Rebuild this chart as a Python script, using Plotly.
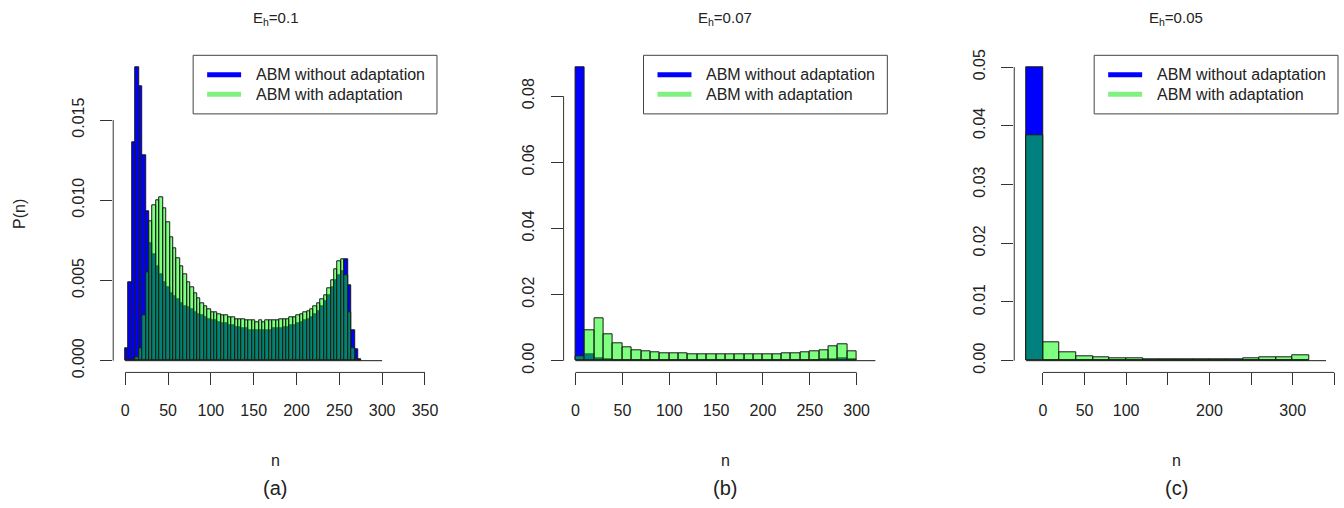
import plotly.graph_objects as go

W, H = 1344, 508

# ---------------- data ----------------
panel_titles = ["E<sub>h</sub>=0.1", "E<sub>h</sub>=0.07", "E<sub>h</sub>=0.05"]
panel_tags = ["(a)", "(b)", "(c)"]
series_names = ["ABM without adaptation", "ABM with adaptation"]

# panel (a): bins of width 4 starting at 0, breaks end at 300
a_bin_start, a_bin_width, a_break_end = 0, 4, 300
a_without = [0.0008, 0.0049, 0.0136, 0.0183, 0.0171, 0.0128, 0.0093, 0.0073, 0.0066, 0.0059,
             0.0054, 0.0049, 0.0046, 0.0042, 0.0040, 0.0038, 0.0036, 0.0034, 0.0033, 0.0032,
             0.0030, 0.0029, 0.0028, 0.0027, 0.0026, 0.0025, 0.0025, 0.0024, 0.0023, 0.0023,
             0.0022, 0.0022, 0.0021, 0.0021, 0.0020, 0.0020, 0.0019, 0.0019, 0.0019, 0.0019,
             0.0019, 0.0019, 0.0019, 0.0020, 0.0020, 0.0020, 0.0021, 0.0021, 0.0022, 0.0022,
             0.0023, 0.0024, 0.0025, 0.0026, 0.0027, 0.0029, 0.0031, 0.0034, 0.0037, 0.0041,
             0.0046, 0.0050, 0.0053, 0.0056, 0.0063, 0.0047, 0.0019, 0.0007, 0.0001]
a_with = [0.0, 0.0, 0.0, 0.0002, 0.0008, 0.0028, 0.0055, 0.0087, 0.0097, 0.0100,
          0.0102, 0.0095, 0.0086, 0.0077, 0.0070, 0.0064, 0.0059, 0.0054, 0.0049, 0.0046,
          0.0042, 0.0039, 0.0036, 0.0034, 0.0032, 0.0030, 0.0030, 0.0029, 0.0028, 0.0028,
          0.0027, 0.0027, 0.0026, 0.0026, 0.0026, 0.0025, 0.0025, 0.0025, 0.0024, 0.0025,
          0.0024, 0.0025, 0.0025, 0.0025, 0.0025, 0.0026, 0.0026, 0.0026, 0.0027, 0.0027,
          0.0028, 0.0029, 0.0030, 0.0031, 0.0032, 0.0034, 0.0036, 0.0038, 0.0041, 0.0045,
          0.0050, 0.0057, 0.0062, 0.0063, 0.0053, 0.0030, 0.0008, 0.0001, 0.0]
a_xlim = [0, 350]
a_xticks = [0, 50, 100, 150, 200, 250, 300, 350]
a_xtick_text = ["0", "50", "100", "150", "200", "250", "300", "350"]
a_xticks_unlabelled = []
a_yticks = [0, 0.005, 0.010, 0.015]
a_ytick_text = ["0.000", "0.005", "0.010", "0.015"]

# panel (b): bins of width 10 starting at 0, breaks end at 320
b_bin_start, b_bin_width, b_break_end = 0, 10, 320
b_without = [0.0888, 0.0020, 0.0008, 0.0003, 0.0002, 0.0001, 0.0001, 0.0001, 0.0001, 0.0001,
             0.0001, 0.0001, 0.0001, 0.0001, 0.0001, 0.0001, 0.0001, 0.0001, 0.0001, 0.0001,
             0.0001, 0.0001, 0.0001, 0.0001, 0.0001, 0.0002, 0.0003, 0.0005, 0.0006, 0.0003]
b_with = [0.0012, 0.0093, 0.0128, 0.0081, 0.0053, 0.0039, 0.0032, 0.0029, 0.0026, 0.0023,
          0.0022, 0.0021, 0.0020, 0.0019, 0.0019, 0.0018, 0.0018, 0.0019, 0.0019, 0.0019,
          0.0020, 0.0020, 0.0021, 0.0022, 0.0024, 0.0028, 0.0032, 0.0043, 0.0051, 0.0027]
b_xlim = [0, 320]
b_xticks = [0, 50, 100, 150, 200, 250, 300]
b_xtick_text = ["0", "50", "100", "150", "200", "250", "300"]
b_xticks_unlabelled = []
b_yticks = [0, 0.02, 0.04, 0.06, 0.08]
b_ytick_text = ["0.00", "0.02", "0.04", "0.06", "0.08"]

# panel (c): bins of width 20 starting at -20, breaks end at 340
c_bin_start, c_bin_width, c_break_end = -20, 20, 340
c_without = [0.0500, 0, 0, 0, 0, 0, 0, 0, 0, 0, 0, 0, 0, 0, 0, 0, 0]
c_with = [0.0384, 0.0031, 0.0015, 0.0008, 0.0006, 0.0004, 0.0004, 0.0003, 0.0003, 0.0003,
          0.0003, 0.0003, 0.0003, 0.0004, 0.0005, 0.0006, 0.0009]
c_xlim = [-20, 340]
c_xticks = [0, 50, 100, 200, 300]
c_xtick_text = ["0", "50", "100", "200", "300"]
c_xticks_unlabelled = [150, 250, 350]
c_yticks = [0, 0.01, 0.02, 0.03, 0.04, 0.05]
c_ytick_text = ["0.00", "0.01", "0.02", "0.03", "0.04", "0.05"]

panels = [
    dict(start=a_bin_start, bw=a_bin_width, end=a_break_end, s1=a_without, s2=a_with,
         xlim=a_xlim, xt=a_xticks, xtt=a_xtick_text, xu=a_xticks_unlabelled,
         yt=a_yticks, ytt=a_ytick_text),
    dict(start=b_bin_start, bw=b_bin_width, end=b_break_end, s1=b_without, s2=b_with,
         xlim=b_xlim, xt=b_xticks, xtt=b_xtick_text, xu=b_xticks_unlabelled,
         yt=b_yticks, ytt=b_ytick_text),
    dict(start=c_bin_start, bw=c_bin_width, end=c_break_end, s1=c_without, s2=c_with,
         xlim=c_xlim, xt=c_xticks, xtt=c_xtick_text, xu=c_xticks_unlabelled,
         yt=c_yticks, ytt=c_ytick_text),
]

# ---------------- style ----------------
FONT = "Liberation Sans, Arial, Helvetica, sans-serif"
BLUE = "#0000FF"
GREEN = "rgba(0,255,0,0.5)"
GREEN_LEG = "#80F080"
EDGE = "#1a1a1a"
AXC = "#333333"
TXT = "#222222"

plot_left = [113.3, 564.0, 1015.0]
plot_w = 324.0
plot_top, plot_bottom = 50.5, 375.3
ydom = [1 - plot_bottom / H, 1 - plot_top / H]

# legend box geometry (px, relative to plot's top-right corner)
LEG_W, LEG_H = 244.0, 60.0
LEG_SAMPLE = (14.0, 48.0)   # sample line start/end from box left
LEG_TEXT_X = 61.0           # text start from box left
LEG_ROWS = (20.0, 40.0)     # row centres from box top

fig = go.Figure()
shapes, annotations = [], []
layout = {}


def px(xp):
    return xp / W


def py(yp):
    return 1 - yp / H


for i, p in enumerate(panels):
    s = "" if i == 0 else str(i + 1)
    xa, ya = "x" + s, "y" + s
    n = len(p["s1"])
    centers = [p["start"] + p["bw"] * (k + 0.5) for k in range(n)]

    # histogram baseline (zero-height bins drawn as a line, like R)
    fig.add_trace(go.Scatter(x=[p["start"], p["end"]], y=[0, 0], mode="lines",
                             line=dict(color=EDGE, width=1), showlegend=False,
                             hoverinfo="skip", xaxis=xa, yaxis=ya))
    fig.add_trace(go.Bar(x=centers, y=p["s1"], width=p["bw"], name=series_names[0],
                         marker=dict(color=BLUE, line=dict(color=EDGE, width=1)),
                         showlegend=False, xaxis=xa, yaxis=ya))
    fig.add_trace(go.Bar(x=centers, y=p["s2"], width=p["bw"], name=series_names[1],
                         marker=dict(color=GREEN, line=dict(color=EDGE, width=1)),
                         showlegend=False, xaxis=xa, yaxis=ya))

    x0, x1 = p["xlim"]
    dx = 0.04 * (x1 - x0)
    ymax = max(max(p["s1"]), max(p["s2"]))
    dy = 0.04 * ymax
    dom = [plot_left[i] / W, (plot_left[i] + plot_w) / W]

    minor = dict(ticks="")
    if p["xu"]:
        minor = dict(tickmode="array", tickvals=p["xu"], ticks="outside", ticklen=12,
                     tickwidth=1, tickcolor=AXC, showgrid=False)

    layout["xaxis" + s] = dict(domain=dom, range=[x0 - dx, x1 + dx], anchor=ya,
                               tickmode="array", tickvals=p["xt"], ticktext=p["xtt"],
                               ticks="outside", ticklen=12, tickwidth=1, tickcolor=AXC,
                               showline=False, showgrid=False, zeroline=False,
                               tickfont=dict(size=16, color=TXT, family=FONT),
                               ticklabelstandoff=11, minor=minor)
    layout["yaxis" + s] = dict(domain=ydom, range=[-dy, ymax + dy], anchor=xa,
                               tickmode="array", tickvals=p["yt"], ticktext=p["ytt"],
                               ticks="outside", ticklen=12, tickwidth=1, tickcolor=AXC,
                               tickangle=-90, showline=False, showgrid=False, zeroline=False,
                               tickfont=dict(size=16, color=TXT, family=FONT),
                               ticklabelstandoff=10)

    # axis lines spanning first to last tick, as R draws them
    all_xt = sorted(p["xt"] + p["xu"])
    shapes.append(dict(type="line", xref=xa, yref=ya + " domain", x0=all_xt[0], x1=all_xt[-1],
                       y0=0, y1=0, line=dict(color=AXC, width=1)))
    shapes.append(dict(type="line", xref=xa + " domain", yref=ya, x0=0, x1=0,
                       y0=p["yt"][0], y1=p["yt"][-1], line=dict(color=AXC, width=1)))

    # legend (top-right of the plot region, R style)
    right = plot_left[i] + plot_w
    left = right - LEG_W
    top = plot_top
    shapes.append(dict(type="rect", xref="paper", yref="paper",
                       x0=px(left), x1=px(right), y0=py(top + LEG_H), y1=py(top),
                       line=dict(color="#444444", width=1), fillcolor="white", layer="above"))
    for nm, col, row in zip(series_names, [BLUE, GREEN_LEG], LEG_ROWS):
        shapes.append(dict(type="line", xref="paper", yref="paper",
                           x0=px(left + LEG_SAMPLE[0]), x1=px(left + LEG_SAMPLE[1]),
                           y0=py(top + row), y1=py(top + row),
                           line=dict(color=col, width=5), layer="above"))
        annotations.append(dict(text=nm, x=px(left + LEG_TEXT_X), y=py(top + row),
                                xref="paper", yref="paper", xanchor="left", yanchor="middle",
                                showarrow=False, font=dict(size=16, color=TXT, family=FONT)))

    cx = (dom[0] + dom[1]) / 2
    annotations.append(dict(text=panel_titles[i], x=cx, y=py(13), xref="paper", yref="paper",
                            xanchor="center", yanchor="middle", showarrow=False,
                            font=dict(size=15, color=TXT, family=FONT)))
    annotations.append(dict(text="n", x=cx, y=py(465), xref="paper", yref="paper",
                            xanchor="center", yanchor="middle", showarrow=False,
                            font=dict(size=16, color=TXT, family=FONT)))
    annotations.append(dict(text=panel_tags[i], x=cx, y=py(494), xref="paper", yref="paper",
                            xanchor="center", yanchor="middle", showarrow=False,
                            font=dict(size=20, color=TXT, family=FONT)))

annotations.append(dict(text="P(n)", x=px(20), y=py(213), xref="paper", yref="paper",
                        xanchor="center", yanchor="middle", textangle=-90, showarrow=False,
                        font=dict(size=16, color=TXT, family=FONT)))

fig.update_layout(width=W, height=H, margin=dict(l=0, r=0, t=0, b=0),
                  paper_bgcolor="white", plot_bgcolor="white", barmode="overlay",
                  bargap=0, showlegend=False, font=dict(family=FONT, color=TXT),
                  shapes=shapes, annotations=annotations, **layout)

fig.write_html("out.html")
